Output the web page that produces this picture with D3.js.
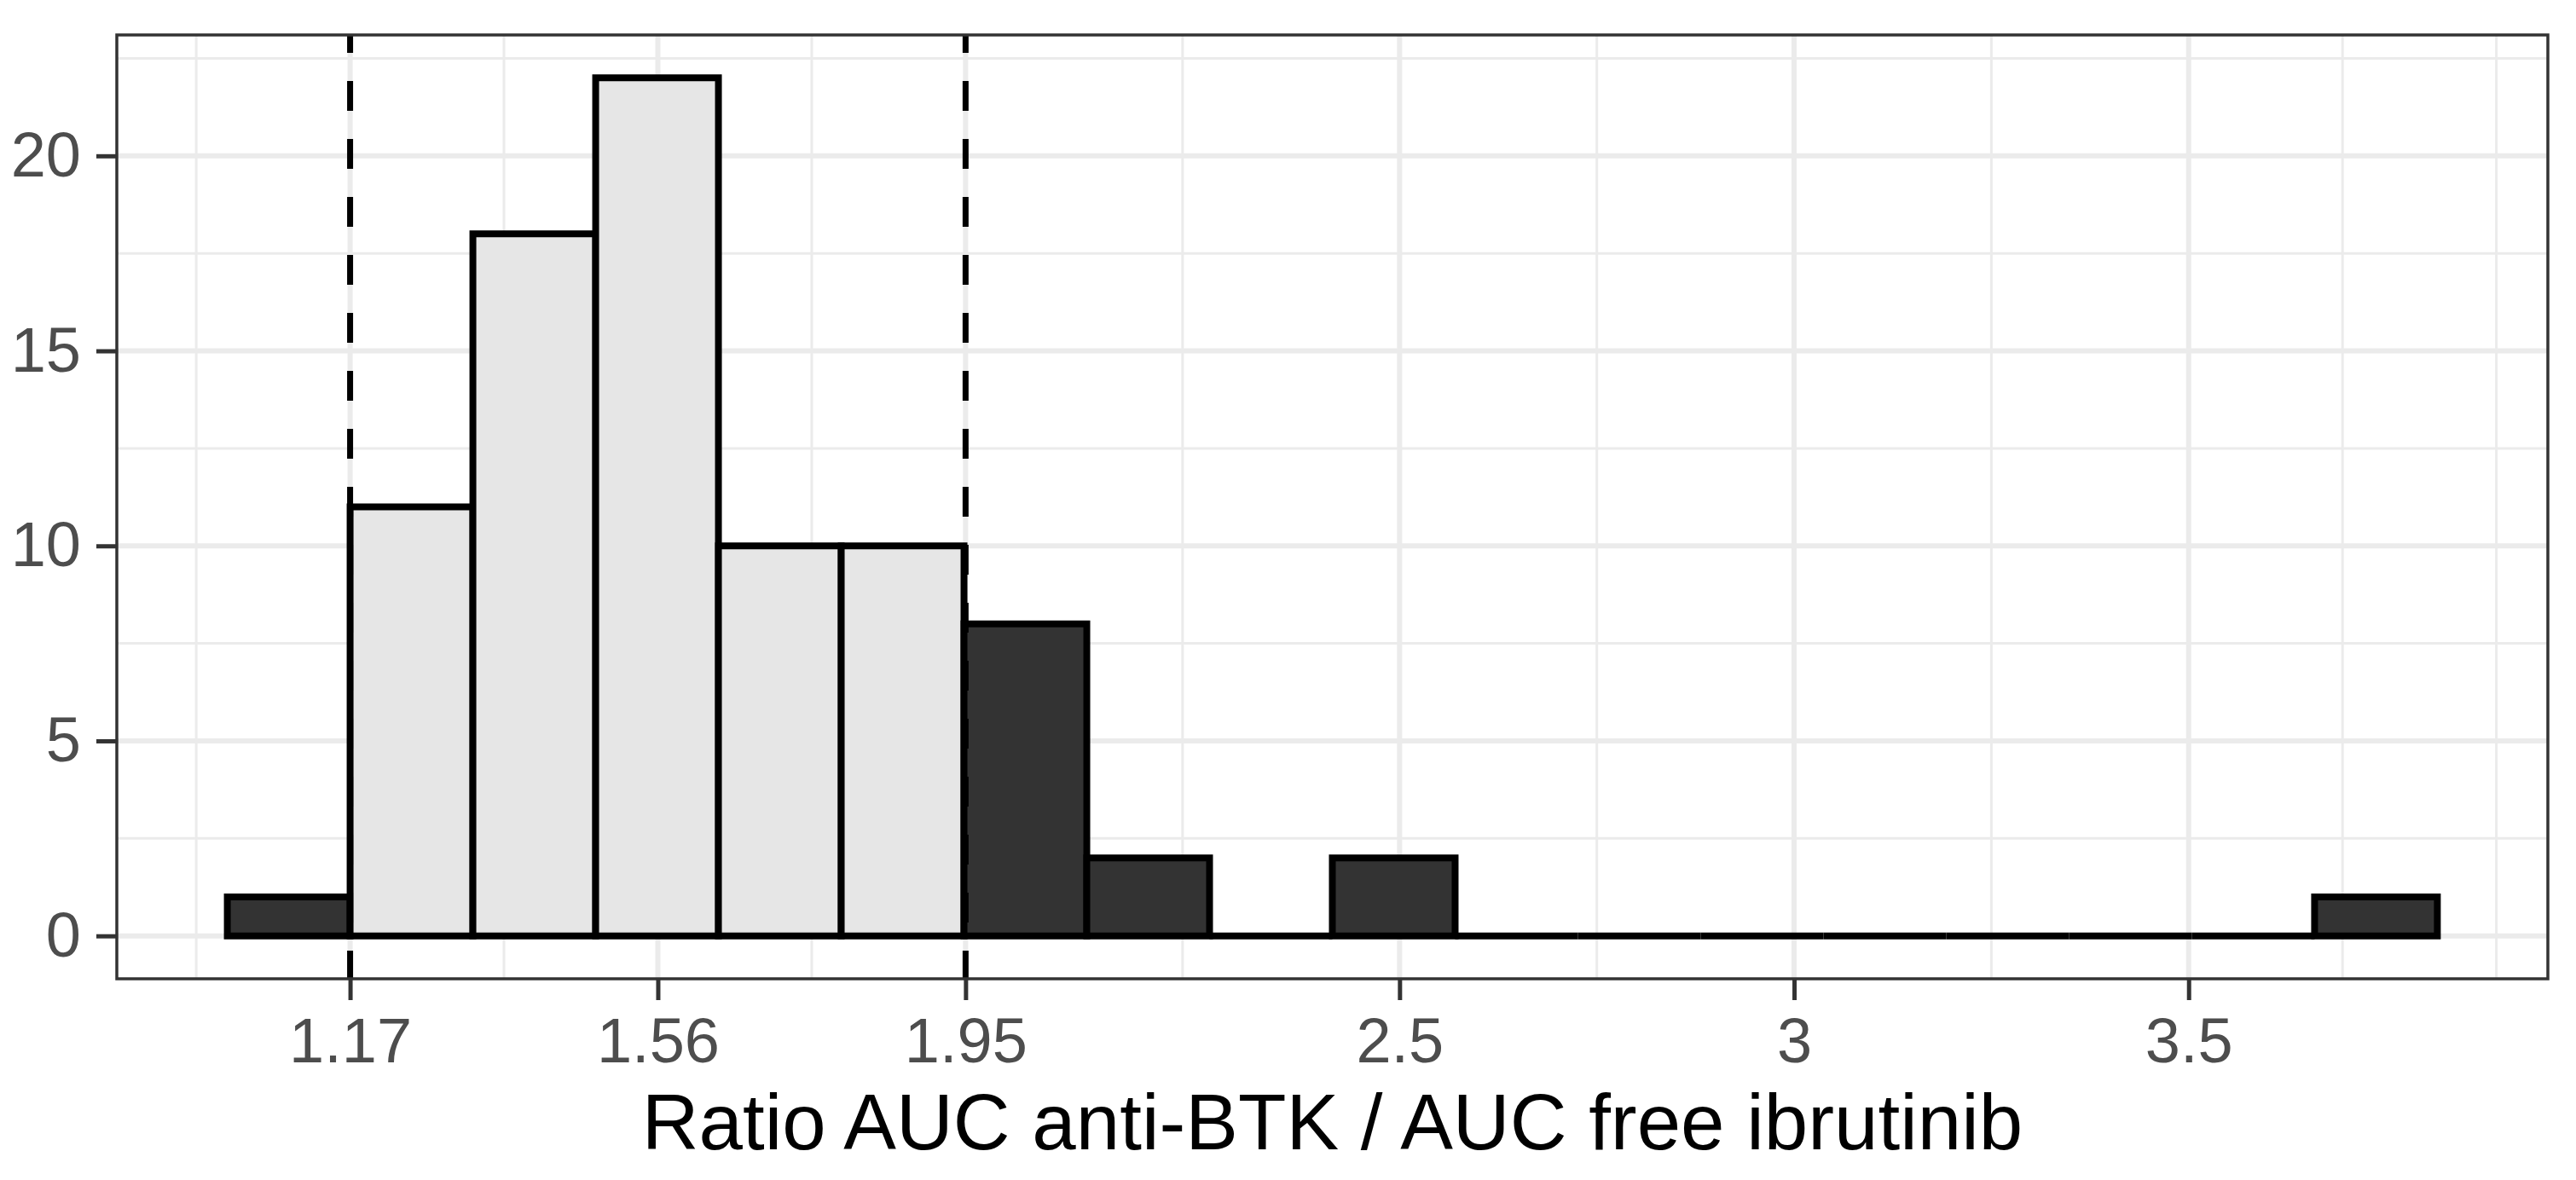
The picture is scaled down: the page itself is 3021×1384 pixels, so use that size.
<!DOCTYPE html>
<html>
<head>
<meta charset="utf-8">
<script src="https://cdn.jsdelivr.net/npm/d3@7"></script>
<style>
	body { margin: 0; background: #ffffff; }
</style>
</head>
<body>
<div id="svganchor"></div>
<script>
// Data
var binStart = 1.0144;
var binWidth = 0.1556;
var counts = [1, 11, 18, 22, 10, 10, 8, 2, 0, 2, 0, 0, 0, 0, 0, 0, 0, 1];
var cutoffs = [1.17, 1.95];
var xTicks = [1.17, 1.56, 1.95, 2.5, 3, 3.5];
var yTicks = [0, 5, 10, 15, 20];
var xTitle = "Ratio AUC anti-BTK / AUC free ibrutinib";

// Measurement
var w = 3021, h = 1384;
var panel = { left: 137, right: 2988, top: 41, bottom: 1148 };
var font = "'Liberation Sans', Arial, Helvetica, sans-serif";

var bins = counts.map(function(c, i) {
	return { x0: binStart + i * binWidth, x1: binStart + (i + 1) * binWidth, count: c };
});

// Scaling, padded 5% each side like ggplot
var xMin = bins[0].x0, xMax = bins[bins.length - 1].x1;
var xPad = (xMax - xMin) * 0.05;
var xScale = d3.scaleLinear()
				.domain([ xMin - xPad, xMax + xPad ])
				.range([ panel.left, panel.right ]);

var yMax = d3.max(counts);
var yScale = d3.scaleLinear()
				.domain([ -yMax * 0.05, yMax * 1.05 ])
				.range([ panel.bottom, panel.top ]);

// minor breaks: midpoints between majors, extended by one step outside
function minorBreaks(b, domain) {
	var bd = b[1] - b[0];
	var ext = b.slice();
	if (domain[0] < b[0]) ext.unshift(b[0] - bd);
	if (domain[1] > b[b.length - 1]) ext.push(b[b.length - 1] + bd);
	var out = [];
	for (var i = 0; i < ext.length - 1; i++) {
		out.push((ext[i] + ext[i + 1]) / 2);
		if (b.indexOf(ext[i]) < 0) out.push(ext[i]);
	}
	if (b.indexOf(ext[ext.length - 1]) < 0) out.push(ext[ext.length - 1]);
	return out.filter(function(d) { return d > domain[0] && d < domain[1]; });
}

// SVG Container
var svg = d3.select("#svganchor")
				.append("svg")
				.attr("width", w)
				.attr("height", h);

svg.append("rect")
	.attr("x", panel.left)
	.attr("y", panel.top)
	.attr("width", panel.right - panel.left)
	.attr("height", panel.bottom - panel.top)
	.attr("fill", "#ffffff");

// Grid
var grid = svg.append("g").attr("class", "grid");

grid.selectAll(".xminor")
	.data(minorBreaks(xTicks, xScale.domain()))
	.enter()
	.append("line")
	.attr("x1", function(d) { return xScale(d); })
	.attr("x2", function(d) { return xScale(d); })
	.attr("y1", panel.top)
	.attr("y2", panel.bottom)
	.attr("stroke", "#ebebeb")
	.attr("stroke-width", 3);

grid.selectAll(".yminor")
	.data(minorBreaks(yTicks, yScale.domain()))
	.enter()
	.append("line")
	.attr("x1", panel.left)
	.attr("x2", panel.right)
	.attr("y1", function(d) { return yScale(d); })
	.attr("y2", function(d) { return yScale(d); })
	.attr("stroke", "#ebebeb")
	.attr("stroke-width", 3);

grid.selectAll(".xmajor")
	.data(xTicks)
	.enter()
	.append("line")
	.attr("x1", function(d) { return xScale(d); })
	.attr("x2", function(d) { return xScale(d); })
	.attr("y1", panel.top)
	.attr("y2", panel.bottom)
	.attr("stroke", "#ebebeb")
	.attr("stroke-width", 6);

grid.selectAll(".ymajor")
	.data(yTicks)
	.enter()
	.append("line")
	.attr("x1", panel.left)
	.attr("x2", panel.right)
	.attr("y1", function(d) { return yScale(d); })
	.attr("y2", function(d) { return yScale(d); })
	.attr("stroke", "#ebebeb")
	.attr("stroke-width", 6);

// Bars (paths so that empty bins still draw their base line)
function inside(d) {
	var mid = (d.x0 + d.x1) / 2;
	return mid > cutoffs[0] && mid < cutoffs[1];
}

svg.append("g")
	.attr("class", "bars")
	.selectAll("path")
	.data(bins)
	.enter()
	.append("path")
	.attr("d", function(d) {
		var x0 = xScale(d.x0), x1 = xScale(d.x1);
		var y0 = yScale(0), y1 = yScale(d.count);
		return "M" + x0 + "," + y0 + "V" + y1 + "H" + x1 + "V" + y0 + "Z";
	})
	.attr("fill", function(d) { return inside(d) ? "#e6e6e6" : "#333333"; })
	.attr("stroke", "#000000")
	.attr("stroke-width", 8)
	.attr("stroke-linejoin", "miter");

// Cut-off lines
svg.selectAll(".cutoff")
	.data(cutoffs)
	.enter()
	.append("line")
	.attr("class", "cutoff")
	.attr("x1", function(d) { return xScale(d); })
	.attr("x2", function(d) { return xScale(d); })
	.attr("y1", panel.top)
	.attr("y2", panel.bottom)
	.attr("stroke", "#000000")
	.attr("stroke-width", 7)
	.attr("stroke-dasharray", "35 33")
	.attr("stroke-dashoffset", 14);

// Panel border
svg.append("rect")
	.attr("x", panel.left)
	.attr("y", panel.top)
	.attr("width", panel.right - panel.left)
	.attr("height", panel.bottom - panel.top)
	.attr("fill", "none")
	.attr("stroke", "#333333")
	.attr("stroke-width", 3.5);

// Axis
var xAxis = d3.axisBottom()
				.scale(xScale)
				.tickValues(xTicks)
				.tickFormat(function(d) { return d; })
				.tickSizeInner(25)
				.tickSizeOuter(0)
				.tickPadding(20);

var yAxis = d3.axisLeft()
				.scale(yScale)
				.tickValues(yTicks)
				.tickFormat(function(d) { return d; })
				.tickSizeInner(24)
				.tickSizeOuter(0)
				.tickPadding(18);

var gx = svg.append("g")
	.attr("class", "x axis")
	.attr("transform", "translate(0," + panel.bottom + ")")
	.call(xAxis);

var gy = svg.append("g")
	.attr("class", "y axis")
	.attr("transform", "translate(" + panel.left + ",0)")
	.call(yAxis);

[gx, gy].forEach(function(g) {
	g.attr("font-family", font).attr("font-size", 74);
	g.select(".domain").remove();
	g.selectAll(".tick line")
		.attr("stroke", "#333333")
		.attr("stroke-width", 5);
	g.selectAll(".tick text")
		.attr("fill", "#4d4d4d");
});

// Axis title
svg.append("text")
	.attr("x", (panel.left + panel.right) / 2)
	.attr("y", 1348)
	.attr("text-anchor", "middle")
	.attr("font-family", font)
	.attr("font-size", 92.5)
	.attr("fill", "#000000")
	.text(xTitle);
</script>
</body>
</html>
